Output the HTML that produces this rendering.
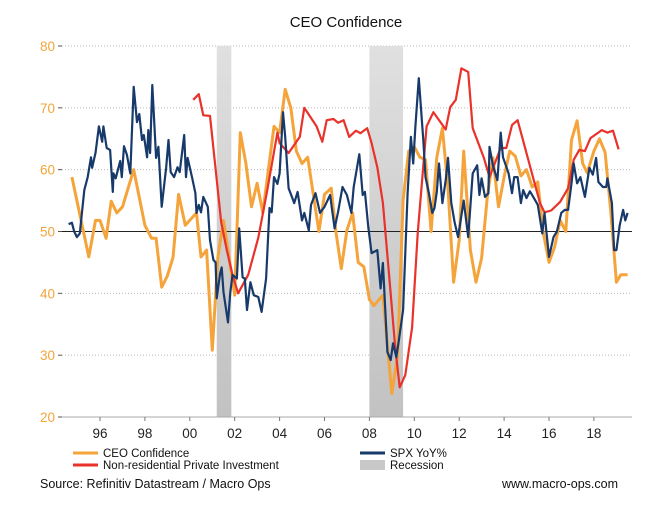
<!DOCTYPE html>
<html><head><meta charset="utf-8"><style>
body{margin:0;background:#fff;}
svg{display:block;font-family:"Liberation Sans",Arial,sans-serif;}
</style></head><body>
<svg id="chart" width="672" height="518" viewBox="0 0 672 518">
<defs><linearGradient id="recg" x1="0" y1="0" x2="0" y2="1"><stop offset="0" stop-color="#e0e0e0"/><stop offset="0.5" stop-color="#d0d0d0"/><stop offset="1" stop-color="#c2c2c2"/></linearGradient></defs>
<text x="346" y="27" text-anchor="middle" font-size="15" fill="#111">CEO Confidence</text>
<g id="grid"></g>
<g id="rec"></g>
<g id="yaxis"></g>
<g id="xaxis"></g>
<g id="series"></g>
<g>
<line x1="73" y1="453" x2="98" y2="453" stroke="#f4a43a" stroke-width="3"/>
<text x="103" y="457" font-size="11.5" fill="#111">CEO Confidence</text>
<line x1="73" y1="465" x2="98" y2="465" stroke="#e8322a" stroke-width="3"/>
<text x="103" y="469" font-size="11.5" fill="#111">Non-residential Private Investment</text>
<line x1="360" y1="453" x2="385" y2="453" stroke="#173a6b" stroke-width="3"/>
<text x="390" y="457" font-size="11.5" fill="#111">SPX YoY%</text>
<rect x="360" y="460" width="25" height="10" fill="#c8c8c8"/>
<text x="390" y="469" font-size="11.5" fill="#111">Recession</text>
</g>
<text x="40" y="488" font-size="12.5" fill="#111">Source: Refinitiv Datastream / Macro Ops</text>
<text x="618" y="488" text-anchor="end" font-size="12.5" fill="#111">www.macro-ops.com</text>
</svg>
<script>
const yTicks=[20,30,40,50,60,70,80];
const xTickYears=[1996,1998,2000,2002,2004,2006,2008,2010,2012,2014,2016,2018];
const xTickLabels=["96","98","00","02","04","06","08","10","12","14","16","18"];
const recessions=[[2001.2,2001.85],[2008.0,2009.5]];
const ceoT=[1994.75,1995.5,1995.8,1996.0,1996.27,1996.5,1996.75,1997.0,1997.5,1998.0,1998.3,1998.5,1998.75,1999.0,1999.25,1999.5,1999.8,2000.3,2000.5,2000.75,2001.0,2001.25,2001.5,2002.0,2002.25,2002.5,2002.75,2003.0,2003.25,2003.75,2004.0,2004.25,2004.5,2004.75,2005.0,2005.25,2005.75,2006.0,2006.3,2006.5,2006.75,2007.0,2007.25,2007.5,2007.75,2008.0,2008.2,2008.6,2009.0,2009.25,2009.5,2009.75,2010.0,2010.25,2010.5,2010.75,2011.0,2011.25,2011.5,2011.75,2012.0,2012.2,2012.5,2012.75,2013.0,2013.25,2013.5,2013.75,2014.0,2014.25,2014.5,2014.75,2015.0,2015.25,2015.5,2015.75,2016.0,2016.25,2016.5,2016.75,2017.0,2017.25,2017.5,2017.7,2018.0,2018.25,2018.5,2018.75,2019.0,2019.2,2019.5];
const ceoV=[58.8,45.9,51.8,51.8,48.9,54.9,53,54,60,51,48.9,48.9,41,42.8,45.8,56,51,53,45.9,47,30.8,45.9,51.8,39.7,66,61,54,57.8,53,67,66,73,70,63,61,62,50,56,57,50.2,44,50.2,53,45,44.3,39,38,39.7,23.8,29.7,55,63,63.7,62,61.6,50,62,66.7,57,41.8,48.6,63,47,41.8,45.7,55.6,61.9,54,58.8,63,62.2,59,60,57.2,58,49.7,45,47.5,51.8,50,64.8,67.9,61,59.5,63,65,62.8,53.4,41.8,43,43];
const nrT=[2000.15,2000.4,2000.6,2000.9,2001.4,2001.65,2001.9,2002.15,2002.6,2003.05,2003.45,2003.9,2004.0,2004.4,2004.9,2005.1,2005.65,2005.9,2006.1,2006.4,2006.6,2006.85,2007.1,2007.4,2007.6,2007.9,2008.1,2008.35,2008.6,2008.9,2009.15,2009.35,2009.6,2009.9,2010.15,2010.55,2010.85,2011.4,2011.6,2011.85,2012.1,2012.4,2012.6,2013.1,2013.35,2013.85,2014.1,2014.35,2014.6,2015.6,2015.8,2016.1,2016.5,2016.85,2017.1,2017.35,2017.6,2017.85,2018.35,2018.6,2018.85,2019.1];
const nrV=[71.3,72.2,68.8,68.7,51.5,47,43,40,43,49,56.7,66,64.3,62.7,65.3,70,67,64.5,68,68.2,67.6,68,65.3,66.3,65.9,66.7,64.3,60.4,54.6,42,31.3,24.8,26.8,34.5,49.7,67,69.3,66.5,70.1,71.3,76.4,75.8,66.7,61.9,58.8,63.5,63.5,67.2,68,54.6,53.1,53.4,54.8,57,61.6,63.2,63,65.1,66.4,66,66.3,63.3];
const spxT=[1994.6,1994.75,1994.85,1994.97,1995.1,1995.3,1995.45,1995.6,1995.65,1995.8,1995.95,1996.1,1996.15,1996.3,1996.45,1996.57,1996.6,1996.7,1996.9,1996.97,1997.07,1997.2,1997.35,1997.5,1997.65,1997.75,1997.87,1997.95,1998.1,1998.15,1998.23,1998.33,1998.5,1998.6,1998.75,1998.95,1999.05,1999.15,1999.3,1999.45,1999.55,1999.75,1999.83,1999.9,2000.1,2000.25,2000.3,2000.4,2000.5,2000.6,2000.8,2000.9,2001.05,2001.15,2001.2,2001.35,2001.42,2001.5,2001.7,2001.8,2001.9,2002.1,2002.2,2002.35,2002.45,2002.55,2002.7,2002.85,2003.05,2003.2,2003.4,2003.55,2003.65,2003.75,2003.9,2004.0,2004.15,2004.25,2004.4,2004.55,2004.65,2004.8,2005.0,2005.1,2005.3,2005.4,2005.6,2005.8,2006.0,2006.25,2006.45,2006.6,2006.8,2007.0,2007.2,2007.3,2007.55,2007.7,2007.8,2007.95,2008.1,2008.35,2008.5,2008.6,2008.8,2008.95,2009.05,2009.2,2009.3,2009.5,2009.7,2009.85,2009.95,2010.05,2010.2,2010.4,2010.5,2010.65,2010.8,2010.9,2011.0,2011.1,2011.25,2011.4,2011.5,2011.65,2011.8,2011.95,2012.2,2012.4,2012.6,2012.8,2012.9,2013.0,2013.15,2013.3,2013.35,2013.5,2013.7,2013.85,2013.95,2014.2,2014.35,2014.45,2014.6,2014.75,2014.85,2015.0,2015.15,2015.3,2015.5,2015.7,2015.8,2016.0,2016.2,2016.35,2016.55,2016.7,2016.85,2017.0,2017.1,2017.25,2017.4,2017.6,2017.8,2017.95,2018.1,2018.2,2018.4,2018.55,2018.6,2018.8,2018.9,2019.0,2019.15,2019.3,2019.4,2019.5];
const spxV=[51.2,51.4,50,49.1,49.7,56.7,58.8,62,60.3,62.7,67,64.5,67,63.5,63.2,56.4,59.4,58.6,61.4,58.8,63.8,62.4,59.4,73.4,67.7,69,64.8,65.6,62,66.4,62.7,73.7,61.9,63.7,54,60.4,64.8,59.6,58.8,60.4,59.6,65.6,58.8,61.9,58.8,56.2,53,54.3,53.1,55.6,54,48.6,45.4,45,39.2,43.2,44.2,40.2,35.3,40,43,42.4,50.5,42.6,42.4,37.3,41.8,39.7,39.4,37,42.4,53.8,53.1,58.8,57.7,59.4,69.3,65.3,57,55.6,54.6,56.4,51.8,53,50.2,54.3,56.2,53,54,55.9,50.5,53.1,57.2,55.9,53,57.2,62.5,55.9,56.4,50.7,46.5,47,40.8,44.9,30.5,29.2,31.9,29.7,32.1,37.3,56.2,65.3,61,67,74.8,64.8,58.8,56.2,53,53.8,56.4,61,54.6,58.3,61.9,54.6,51.4,49.1,55,49.1,59.4,60.7,55.9,58.6,55.6,56.2,63.7,60.7,58.3,66,62,59.4,56.2,58.8,58.8,54.6,56.7,55.4,56.5,55.6,54.3,49.7,53,45.9,49.1,50,53,53.5,53.5,57.8,61,57.8,58.8,55.6,60.3,59.2,61.9,58,57.2,57.2,58.6,54.6,47,47,51,53.5,51.8,53];

const NS="http://www.w3.org/2000/svg";
const X0=62,X1=632,Y0=46,Y1=417;
function xs(t){return 100+(t-1996)*22.45;}
function ys(v){return Y0+(80-v)*(Y1-Y0)/60;}
function mk(tag,attrs,parent){const e=document.createElementNS(NS,tag);for(const k in attrs)e.setAttribute(k,attrs[k]);parent.appendChild(e);return e;}
const grid=document.getElementById('grid'),rec=document.getElementById('rec'),ya=document.getElementById('yaxis'),xa=document.getElementById('xaxis'),ser=document.getElementById('series');
yTicks.forEach(v=>{
  const l=mk('line',{x1:X0,x2:X1,y1:ys(v),y2:ys(v),stroke:'#bbb','stroke-width':1,'stroke-dasharray':'1,2'},grid);
  
  
  const tk=mk('line',{x1:X0-4,x2:X0,y1:ys(v),y2:ys(v),stroke:'#555'},ya);
  
  
  const t=mk('text',{x:55,y:ys(v)+5,'text-anchor':'end','font-size':13.5,fill:'#f4a43a'},ya);
  t.textContent=v;
  
  
});
recessions.forEach((r,i)=>{
  const g=mk('rect',{x:xs(r[0]),y:Y0,width:xs(r[1])-xs(r[0]),height:Y1-Y0,fill:'url(#recg)'},rec);
  
  
});
const base=mk('line',{x1:X0,x2:X1,y1:ys(50),y2:ys(50),stroke:'#222','stroke-width':1},ser);


const ax=mk('line',{x1:X0,x2:X1,y1:Y1,y2:Y1,stroke:'#aaa'},xa);


xTickYears.forEach((yr,i)=>{
  const tk=mk('line',{x1:xs(yr),x2:xs(yr),y1:Y1,y2:Y1+4,stroke:'#777'},xa);
  
  
  const t=mk('text',{x:xs(yr),y:438,'text-anchor':'middle','font-size':13.5,fill:'#222'},xa);
  t.textContent=xTickLabels[i];
  
  
});
function line(T,V,color,w,name){
  const d=T.map((t,i)=>(i?'L':'M')+xs(t).toFixed(1)+','+ys(V[i]).toFixed(1)).join('');
  const p=mk('path',{d:d,fill:'none',stroke:color,'stroke-width':w,'stroke-linejoin':'round'},ser);
  
  
}
line(ceoT,ceoV,'#f4a43a',3,'ceo-confidence-line');
line(nrT,nrV,'#e8322a',2.2,'nonres-investment-line');
line(spxT,spxV,'#173a6b',2.2,'spx-yoy-line');
</script>
</body></html>
